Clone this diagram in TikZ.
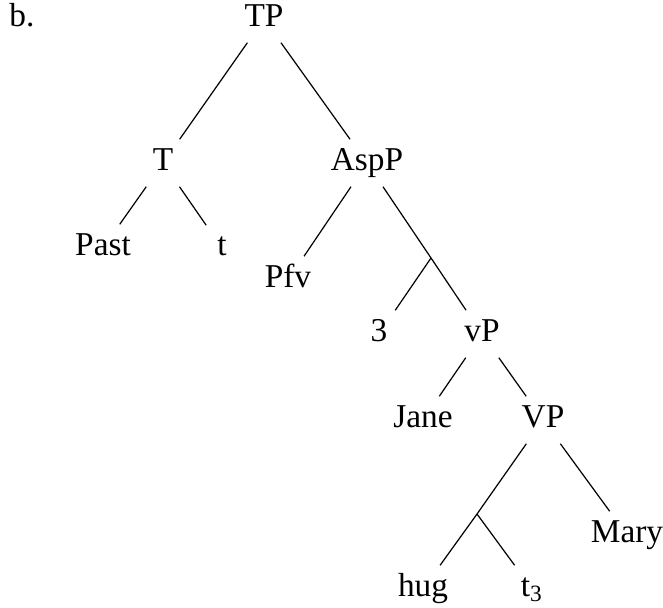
\documentclass[tikz,border=0pt]{standalone}
\usepackage{fontspec}
\setmainfont{Liberation Serif}
\usetikzlibrary{positioning}
\tikzset{cat/.style = {inner sep=3.5pt, text height=1.45ex, text depth=0.35ex, font=\fontsize{11}{13}\selectfont}}

\begin{document}
\begin{tikzpicture}[x=0.33pt, y=-0.33pt, thin]
  \useasboundingbox (0,0) rectangle (663,607);

  \node [cat] (lbl) at (22,19) {b.};
  \node [cat] (TP) at (264,19) {TP};
  \node [cat] (T) at (163,163) {T};
  \node [cat] (AspP) at (367,163) {AspP};
  \node [cat] (Past) at (103,248) {Past};
  \node [cat] (t) at (222,248) {t};
  \node [cat] (Pfv) at (288,280) {Pfv};
  \coordinate (asp) at (431,258);
  \node [cat] (three) at (379,334) {3};
  \node [cat] (vP) at (482,334) {vP};
  \node [cat] (Jane) at (423,420) {Jane};
  \node [cat] (VP) at (543,420) {VP};
  \coordinate (v) at (477,514);
  \node [cat] (Mary) at (627,535) {Mary};
  \node [cat] (hug) at (423,589) {hug};
  \node [cat] (t3) at (532,589) {t\textsubscript{3}};

  \draw (TP) -- (T);
  \draw (TP) -- (AspP);
  \draw (T) -- (Past);
  \draw (T) -- (t);
  \draw (AspP) -- (Pfv);
  \draw (AspP) -- (asp);
  \draw (asp) -- (three);
  \draw (asp) -- (vP);
  \draw (vP) -- (Jane);
  \draw (vP) -- (VP);
  \draw (VP) -- (v);
  \draw (VP) -- (Mary);
  \draw (v) -- (hug);
  \draw (v) -- (t3);
\end{tikzpicture}
\end{document}
